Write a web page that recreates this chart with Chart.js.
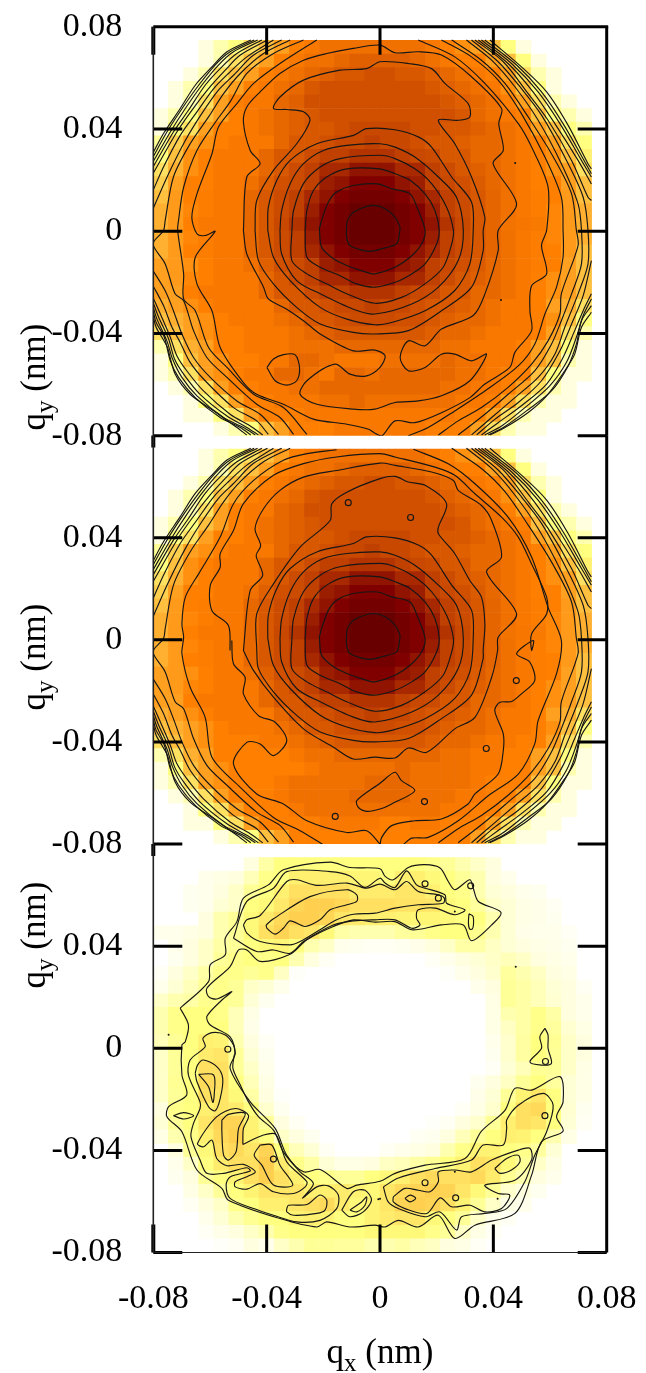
<!DOCTYPE html>
<html><head><meta charset="utf-8">
<style>
html,body{margin:0;padding:0;background:#fff;width:646px;height:1373px;overflow:hidden}
canvas{position:absolute;left:0;top:0}
.t{position:absolute;font-family:"Liberation Serif",serif;font-size:35px;color:#000;white-space:nowrap;line-height:1}
.t sub{font-size:25px;line-height:0}
.r{transform:translate(-50%,-50%) rotate(-90deg)}
.h{transform:translate(-50%,-50%)}
</style></head><body>
<canvas id="c1" width="646" height="1373"></canvas>
<canvas id="c2" width="646" height="1373"></canvas>
<canvas id="c3" width="646" height="1373"></canvas>
<div class="t r" style="left:33px;top:377px">q<sub>y</sub> (nm)</div>
<div class="t r" style="left:33px;top:657px">q<sub>y</sub> (nm)</div>
<div class="t r" style="left:33px;top:935px">q<sub>y</sub> (nm)</div>
<div class="t h" style="left:380px;top:1351px">q<sub>x</sub> (nm)</div>
<script src="https://cdn.jsdelivr.net/npm/chart.js@4"></script>
<script>
// colour ramp: density level -> colour
const rampColours=['#ffffff','#ffffe0','#ffffb0','#ffff80','#ffe060','#ffc040','#ffa020','#ff8000','#f07000','#e06000','#d05000','#c04000','#a82800','#901400','#800000','#680000'];
const tickValues=[-0.08,-0.04,0,0.04,0.08];

// density levels (rows top to bottom, columns left to right)
const heatTop=[
[0,0,0,1,2,3,4,5,6,7,7.5,8,8,8,8,8,8,8,7.5,7,6.5,6,5,3,1,0,0,0,0],
[0,0,0,1,2,4,5,6,7,7.5,8,8,8.5,9,9,9,9,8.5,8,7.5,7,7,6,5,3,1,0,0,0],
[0,0,1,2,4,5,6,7,7.5,8,8.5,9,9.5,9.5,10,10,9.5,9.5,9,8.5,8,7.5,7,6,4,2,1,0,0],
[0,1,2,3,5,6,7,7.5,8,8.5,9.5,10,10,10,10,10,10,10,9.5,9,8.5,8,7.5,6.5,5,3,1,0,0],
[0,1,2,4,6,7,7.5,7.5,8.5,9,10,10,10,10,10,10,10,10,10,9.5,9,8.5,8,7,6,4,2,1,0],
[1,2,3,5,6,7,7.5,8,8.5,9,9.5,10,10,10,10,10,10,10,10,10,9.5,8.5,8,7.5,7,5,3,2,1],
[1,3,4,6,7,7,7.5,8,8.5,9,9.5,9.5,10,10.5,10.5,10.5,10.5,10,10,9.5,9.5,9,8.5,8,7.5,6,5,3,2],
[2.5,4.5,6,6.5,7,7.5,7.5,7.5,8.5,9.5,9.5,10,10.5,10.5,11,10.5,10.5,10,9.5,9.5,9,8.5,8.5,8,7.5,7,6,4,3],
[3,5,6.5,7,7.5,7.5,7.5,8.5,9.5,9.5,10.3,11,11,11.5,11.5,11.5,11,10.5,10.3,9.5,9.5,8.5,8.5,8,7.5,7,6.5,5,3.5],
[4,5.5,6.5,7,7.5,7.5,7.5,8.5,9.5,10.3,11,12,12,13,13,13,12,12,11,10.3,9.5,9,8.5,8,7.5,7,6.5,6,4],
[4.5,6,7,7,7.5,7.5,8,9,10,10.3,11,12.5,13,14,14,14,13,12.5,11,10.5,10,9.3,8.5,8,7.5,7,7,6,5],
[5,6.2,7,7.2,7.5,7.5,8.5,9.5,10.3,11,12,13,14,14.5,14.5,14.5,14,13,12,11,10.3,9.5,8.7,8,7.5,7.2,7,6.2,5],
[5.5,6.2,6.8,7.2,7.5,7.5,8.5,9.5,10.3,11,12.5,14,14.5,15,15,15,14.5,14,12.5,11,10.3,9.5,8.7,8,7.5,7.2,6.8,6.2,5.5],
[5.5,6.2,7,7.5,7.5,7.5,8.5,9.5,10.5,11.5,13,14,14.5,15,15,15,14.5,14,13,11.5,10.5,9.5,8.7,7.8,7.6,7.4,6.8,6.2,5.5],
[5.5,6.2,6.8,7.2,7.5,7.5,8.5,9.5,10.3,11,12.5,14,14.5,15,15,15,14.5,14,12.5,11,10.3,9.5,8.7,8,7.5,7.2,6.8,6.2,5.5],
[5.5,6.2,7,7.2,7.5,7.5,8.5,9.5,10.3,11,12,13,14,14.5,14.5,14.5,14,13,12,11,10.3,9.5,8.7,8,7.5,7.2,7,6.2,5],
[6,6.2,6.5,7,7.5,7.5,8,9,10,10.3,11,12.5,13,14,14,14,13,12.5,11,10.5,10,9.3,8.5,8,7.5,7.2,7,6,5],
[6,6.2,6.8,7,7.5,7.5,7.5,8.5,9.5,10.3,11,12,12,13,13,13,12,12,11,10.3,9.5,9,8.5,8,7.5,7,6.5,6,5],
[6,6,7,7.5,7.5,7.5,7.5,8.5,9.5,9.5,10.3,11,11,11.5,11.5,11.5,11,10.5,10.3,9.5,9.5,8.5,8.5,8,7.5,7,6.5,6,5],
[5.5,6,6.5,7,7.5,7.5,7.5,7.5,8.5,9.5,9.5,10,10.5,10.5,11,10.5,10.5,10,9.5,9.5,9,8.5,8,7.5,7.5,7,6,5.5,4],
[5,5.5,6,6.5,7,7.5,7.5,7.5,8,8.5,9.5,9.5,10,10.3,10.3,10.3,10,10,9.5,9,8.5,8.5,8,7.5,7.5,7,6.5,5,3],
[4,5,6,6.5,7,7,7.5,7.5,7.5,8,8.5,9,9.5,9.5,9.5,9.5,9.5,9.5,9,8.5,8.5,8,7.5,7.5,7.5,7,6,4,2],
[2,4,5.5,6,7,7,7.5,7.5,7.5,8,8,8,8.5,8.5,8.5,8.5,8.5,8.5,8.5,8,8,7.5,7.5,7.5,7,6,5,3,1],
[1,3,5,6,6.5,7,7,7.5,7.5,8.5,8.5,8,7.5,7.5,7.5,8,8,8,8,8.5,8,8,7.5,7.5,7,6,5,2,1],
[1,2,4,6,6.5,7,7.5,7.5,8.5,8.5,8,7.5,8.5,8.5,8,8.5,8.5,8.5,8.5,8.5,8,8,7.5,7,7,5,3,1,1],
[0,1,2,4,6,7,7,7.5,7.5,8,8,8.5,8.5,8.5,8.5,8.5,8.5,8.5,8.5,8,8,7.5,7.5,7,6,4,2,1,0],
[0,0,1,3,4,6,7,7,7.5,7.5,7.5,8,8,8.5,8,8,8,8,8,8,7.5,7.5,7,6,4,2,1,1,0],
[0,0,1,1,3,4,6,7,7,7,7.5,7.5,7.5,7.5,7.5,7.5,7.5,7.5,7.5,7.5,7,7,6,4,2,1,1,0,0],
[0,0,0,0,1,2,3,5,6,7,7,7,7.5,7.5,7.5,7.5,7.5,7.5,7,7,7,6,4,2,1,1,0,0,0]];
const heatMidLower=[
[4,5,6,6.5,7,7,7,7.5,7.5,8,8.5,9,9.5,9.5,9.5,9.5,9.5,9.5,9,8.5,8.5,8,7.5,7.5,7,7,6,4,2],
[2,4,5.5,6,7,7,7,7,7,7.5,8,8,8.5,8.5,8.5,8.5,8.5,8.5,8.5,8,8,7.5,7.5,7,7,6,5,3,1],
[1,3,5,6,6.5,7,7,7,7,7,7.5,8,8,8,8,8,8.5,8,8,8,8,7.5,7.5,7,7,6,5,2,1],
[1,2,4,6,6.5,7,7,7,7.5,8,8,8,8,8,8.5,8.5,8.5,8,8,8,8,7.5,7,7,7,5,3,1,1],
[0,1,2,4,6,7,7,7,7.5,8,8,8,8,8.5,8.5,8.5,8.5,8,8,8,7.5,7.5,7,7,6,4,2,1,0],
[0,0,1,3,4,6,7,7,7,7.5,8,8,8,8,8,8,8,8,8,7.5,7.5,7,7,6,4,2,1,1,0],
[0,0,1,1,3,4,6,7,7,7,7,7.5,7.5,7.5,7.5,7,7,7.5,7.5,7,7,7,6,4,2,1,1,0,0],
[0,0,0,0,1,2,3,5,6,7,7,7,7,7,7,7,7,7,7,7,7,6,4,2,1,1,0,0,0]];
const heatLow=[
[0,0,0,0,0,0,1,2.2,3,3,3,3,3,3,3,3,3,3,2.8,2.5,2,1.5,1,0,0,0,0,0,0],
[0,0,0,.6,.8,1,1.8,2.8,3,3.5,3.5,3.5,3.5,3.3,3.3,3,3.5,3.5,3.2,3,2.5,2,1,.6,0,0,0,0,0],
[0,0,.5,.6,1,1.5,2.5,3,3.5,4,4,4,4,3.6,3.6,3.6,3.8,3.8,3.5,3,2.8,2,1.2,1,.6,.5,0,0,0],
[0,0,.5,.6,1.2,1.5,3,3.2,3.7,4.3,4.5,4.5,4.3,4,4,4,3.9,3.9,3.8,3.2,3,2.4,1.5,1.2,.8,.7,.4,0,0],
[0,0,0,1,2,2.5,3.2,3.7,4.2,4.5,4.5,4.3,3.8,3.6,3.5,3.5,3.4,3.3,3.3,3.2,3,3,2,1.2,.8,.7,.5,0,0],
[.6,.6,.8,1,2,2.5,3.2,4,4.4,4,3.8,3.2,2.2,2,2,2,2.4,2.5,2.8,3,3,2.7,2,1.2,.7,.6,.6,.3,0],
[0,.6,1,1.5,2.2,2.5,3,3.2,3.3,3,2,1.5,.6,.5,.4,.4,.5,.7,1,1.5,2.2,2.2,1.6,1.2,1,.8,.7,.5,0],
[0,.5,1,1.5,2.5,2.8,3,2.8,3,2,1,.4,0,0,0,0,0,0,.3,.6,1,1.2,1.5,1.8,1.5,1,.8,.6,0],
[.3,1,1.5,2.2,2.8,2.8,2.5,2.8,1.6,.2,0,0,0,0,0,0,0,0,0,.2,.6,1,1.4,2.4,2,1.6,1,.8,0],
[.6,1.2,1.8,2.5,2.8,2.5,1.5,1.2,.6,0,0,0,0,0,0,0,0,0,0,0,0,.6,1,2.5,2.2,1.8,1.2,1,.4],
[1.5,2,2.2,2.7,2.8,2.5,1.2,.5,0,0,0,0,0,0,0,0,0,0,0,0,0,0,.8,2.5,2.2,1.8,1.3,1,.6],
[2,2.8,3,3,2.8,1.8,.8,0,0,0,0,0,0,0,0,0,0,0,0,0,0,0,.8,2,2.2,2.8,2.2,1,.6],
[2,2.8,3,3,3,1.8,.7,0,0,0,0,0,0,0,0,0,0,0,0,0,0,0,.8,1.6,2.2,2.8,2.4,1.3,.8],
[1.8,2.5,3,3.5,3.4,2,1,.3,0,0,0,0,0,0,0,0,0,0,0,0,0,0,.6,1.4,2.3,3,2.6,1.5,1],
[1.5,2.5,3,3.6,3.8,2.5,1.2,.5,0,0,0,0,0,0,0,0,0,0,0,0,0,0,.5,1.4,2.3,3,2.5,1.5,1],
[1.5,2.5,3,4,4,2.5,1.5,.6,0,0,0,0,0,0,0,0,0,0,0,0,0,0,.3,1.2,1.8,2.6,2.5,1.5,.8],
[1.5,2.6,3,4.2,4,3,1.8,.8,0,0,0,0,0,0,0,0,0,0,0,0,0,.5,1,1.6,2.5,3,2.4,1.2,.8],
[1.5,2.5,3,4,3.8,3.2,2.2,1,.2,0,0,0,0,0,0,0,0,0,0,0,0,.7,1.2,2.5,3.4,3.8,3,1.2,.8],
[1,2.8,3,3.5,3.8,3.6,3,1.4,.5,0,0,0,0,0,0,0,0,0,0,0,.3,.8,1.4,3,4,4.2,3,1.3,.5],
[1.2,2.5,3,3.8,4.4,4.4,3.4,2.5,1,.4,0,0,0,0,0,0,0,0,.2,.4,1,1.4,2.5,3.5,4,3.8,3,1.2,.4],
[.8,2,2.8,3.5,4.2,4.5,3.5,3,1.5,1,.5,0,0,0,0,0,0,.4,.5,1,1.8,2.5,3,3.5,3.4,3,2,.8,0],
[0,1,2.5,3.2,4,4.2,3.8,4.4,3,1.8,1.2,.4,0,0,0,.4,.6,.8,1,2,2.8,3.4,3.4,3,2.8,2.4,1.2,0,0],
[0,.6,1.5,3,3.6,4,4,4.6,3.6,2.8,2.2,1.2,.8,.8,1,1.6,1.8,2.2,2.6,3,3.4,4,3.8,3.2,2.5,1.5,.8,0,0],
[0,.5,1,2.5,3,3.4,4,4.5,4,3.5,3,2.8,2.5,2.5,3,3.2,3.5,4,4.2,4,4,4.2,3.6,2.6,2,1,.6,0,0],
[0,0,.8,1.5,2.5,3,3.4,3.8,3.8,3.8,3.5,3.5,3.6,3.4,3.2,3.8,4.2,4.4,4.5,4.4,3.8,3.2,2.5,1.4,1,.5,0,0,0],
[0,0,.4,1,1.5,2.8,3,3.5,3.5,3.8,4,4.2,3.6,3.2,3.4,3.8,4.4,4.5,4.4,4,3.4,2.5,1.5,.8,.6,0,0,0,0],
[0,0,0,.6,1.2,2,2.6,3,3,3.4,3.5,3.4,3,3,3.4,3.6,3.8,3.8,3.2,3,2.5,1.5,.7,.4,0,0,0,0,0],
[0,0,0,.3,.7,1,1.5,2,2.8,3,3,3,3,3,3.2,3.2,3.2,3.2,2.8,2.5,1.5,.8,.4,0,0,0,0,0,0],
[0,0,0,0,.2,.4,1,.6,1.5,2,2.5,2.5,2.4,2.4,2,2,2.2,1.8,1.6,1,.8,.3,0,0,0,0,0,0,0]];

// contour lines, q values in units of 0.001 nm as x,y,x,y,...
const ringA=[-11.8,2.1,-11.5,4.7,-10,7.3,-7,9.3,-2.3,10.6,1.8,9.3,5.3,6,7,2.1,7,.8,5.9,-4.4,1.8,-6,-1.8,-7.1,-4.7,-7.3,-10.6,-5.1,-11.8,-1.8,-11.8,2.1];
const ringB=[-21.4,1.4,-20.6,4.7,-18.2,11.9,-15.3,15.8,-9.4,18.4,-1,19,4.1,17.1,10.6,15.1,13.5,8.6,15.9,.8,14.7,-4.5,10.6,-9.7,5.3,-13.6,-1.8,-16.2,-4.7,-15.6,-11.7,-12.9,-16.4,-10.3,-20.6,-5.8,-21.4,1.4];
const ringC=[-26.4,.8,-25.8,8.6,-23.5,16.4,-18.8,21.7,-11.7,24.9,0,24.9,5.3,23,10.6,20.4,15.9,15.1,19.4,8.6,20.9,.8,20,-4.5,15.9,-12.3,11.2,-16.2,5.3,-19.5,-1.8,-21.4,-8.2,-20.1,-14.1,-16.9,-21.1,-13.6,-25.8,-9.7,-26.4,.8];
const ringD=[-31.1,.8,-30.5,8.6,-27,19.1,-21.1,25.6,-14.1,28.9,0,30.2,5.3,28.9,12.3,24.9,18.2,19.1,23.5,9.9,25.9,.8,25.3,-4.5,22.3,-13.6,15.9,-20.1,7.6,-25.4,-1.8,-27.7,-11.7,-24,-18.8,-20.1,-25.8,-16.2,-31.1,-11,-31.1,.8];
const ringE=[-35.3,.8,-34.7,8.6,-31.7,19.1,-27,26.9,-20,32.1,-11.7,34.1,0,34.7,5.3,33.4,12.3,29.5,20.6,21.7,27,13.8,29.4,.8,27.6,-11,20.6,-21.4,11.2,-28,-1.8,-31.9,-9.4,-30,-21.1,-24,-29.4,-18.8,-34.7,-8.4,-35.3,.8];
const ringF=[-39.6,.8,-39.4,9.9,-36.4,20.4,-31.7,28.2,-22.3,34.7,-9.4,38,-4.7,40.6,5.3,40.2,13.5,37.4,18.2,33.4,25.3,21.7,32.3,11.9,32.9,.8,31.7,-12.3,26.4,-22.7,15.9,-30.6,4.1,-35.2,-1.8,-36.1,-11.7,-33.9,-21.1,-29.3,-31.7,-18.8,-37.6,-9.7,-39.6,.8];
const topG=[-44.1,.8,-43.5,12.5,-37.6,24.3,-29.4,34.7,-24.7,43.9,-27,47.2,-32.9,48.1,-37.6,48.5,-35.3,53,-27,59.6,-14.1,63.5,-4.7,64.1,0,66.8,10,66.1,18.2,64.1,22.9,58.3,31.1,50.4,31.7,45.2,27.6,43.9,20.6,43.9,26.4,34.7,32.3,21.7,37,6,36.4,.8,36.4,-7.1,32.3,-21.4,21.7,-30.6,10,-38.4,-1.8,-39.7,-9.4,-39.1,-21.1,-35.8,-29.4,-29.3,-37.6,-20.1,-42.9,-11,-44.1,.8];
const topH=[-48.2,.8,-47,21.7,-42.3,26.9,-45.8,32.1,-48.2,43.2,-47,49.1,-42.3,55,-35.3,62.2,-27,67.4,-18.8,70,-9.4,72,0,73.3,5.3,70.3,13.5,70.7,21.7,69.4,32.3,60.9,42.9,48.5,41.9,42.6,43.5,32.1,39.9,26.9,48.2,11.2,41.7,.8,41.7,-7.1,37,-24.1,32.9,-32.5,21.7,-37.8,15.9,-44.3,10,-42.4,7.1,-48.9,10,-54.1,15.9,-52.8,21.7,-47.6,26.4,-47.6,32.3,-50.2,37.6,-47.6,31.7,-58,21.7,-63.9,13.5,-65.9,5.3,-66.5,-1.8,-69.1,-9.4,-69.1,-22.3,-67.2,-28.2,-63.3,-25.8,-58,-15.9,-51.5,-10.6,-55.4,-4.7,-56.1,0,-52.8,1.8,-48.2,-1.8,-46,-9.4,-46.3,-21.1,-39.7,-27,-34.5,-32.9,-30,-39.4,-26,-41.1,-21.4,-47,-8.4,-48.2,.8];
const topBlob=[-39.9,-52.8,-37.6,-49.5,-34.1,-47.8,-30,-47.8,-28.4,-52.8,-29.4,-58,-32.9,-59.7,-37,-58,-39.9,-52.8];
const topI=[-22.3,75.3,-35.3,66.1,-44.6,58.3,-50.5,50.4,-57,41.3,-59.3,30.8,-64.6,15.1,-66.4,6,-64.6,-.5,-61.7,-1.2,-58.2,.4,-65.2,-9.7,-64.6,-20.1,-59.3,-30.6,-56.4,-45,-48.2,-58.7,-43.5,-63.3,-34.1,-67.2,-23.5,-73,-11.7,-75,-4,-77,-1.8,-78.5,.6,-79.6,5.3,-73.7,12.3,-74.4,21.7,-70.5,31.7,-64.6,37,-59.3,45.8,-52.8,47.6,-46.9,53.5,-38.4,52.9,-30.6,53.5,-20.8,58.8,-16.2,57,-5.1,58.8,.8,59.3,17.8,53.5,33.4,48.8,42.6,37,58.3,26.4,68.7,13.5,75.3];
const arcL10=[-27,75.3,-37.6,70,-47,62.2,-52.9,51.1,-57.6,43.9,-64.6,32.1,-69.3,17.7,-71.1,4.7,-71.4,.8,-69.3,-16.2,-69.3,-26,-65.2,-30.6,-60.5,-45,-54,-52.8,-44.6,-63.3,-34.1,-68.5,-25.8,-79];
const arcR10=[21.7,75.3,32.3,68.7,41.7,59.6,49.9,46.5,58.2,29.5,64,13.8,64.6,.8,64.6,-9.7,62.3,-21.4,58.2,-31.9,54.6,-43.7,48.8,-52.2,37,-62,26.4,-69.8,17,-76.3,10,-79.5];
const arcL11=[-31.7,75.3,-41.1,70,-49.3,62.2,-55.2,54.3,-60.5,45.2,-67,34.7,-72.9,21.7,-75.8,4.7,-76.4,.8,-80.1,-4.4,-75.8,-12.3,-72.3,-24,-69.3,-26.7,-65.8,-38.4,-61.1,-48.9,-54,-56.7,-43.5,-67.2,-35.3,-72.4,-30.5,-79];
const arcR11=[25.3,75.3,35.8,67.4,44.1,58.3,52.3,45.2,60.5,30.8,67.6,15.1,69.3,.8,69.9,-5.1,64,-24,63.5,-31.9,59.3,-42.4,53.5,-51.5,45.2,-60.6,35.8,-68.5,27.6,-73.7,20.6,-79.2];
const arcR12=[30.5,75.3,39.4,67.4,47.6,57,55.8,43.9,64,26.9,69.9,11.2,71.1,.8,71.1,-12.3,67.6,-24,64,-34.5,60.5,-43.7,54.6,-54.1,45.2,-63.3,37,-71.1,27.6,-79.2];
const arcR13=[32.3,75.3,41.7,66.8,49.9,56.3,57,45.9,65.2,29.5,71.7,13.8,73.4,.8,73.4,-12.3,69.9,-24,65.2,-37.1,61.7,-47.6,55.8,-56.7,47.6,-64.6,39.4,-72.4,32.3,-79.2];
const arcTR14=[33.5,75.3,43.5,66.8,52.3,54.3,59.3,43.9,67.6,28.2,73.4,13.8,74.6,12.5];
const arcBR14=[74.6,-11,71.7,-24.7,67.6,-35.8,63.5,-46.3,57,-58,48.8,-66.5,40.5,-73.1,34.1,-79.2];
const arcTR15=[34.7,75.3,45.2,66.1,54,55,61.7,42.6,69.9,28.2,74.6,19];
const arcBR15=[74.6,-24,71.7,-30.6,68.7,-38.4,64.6,-48.9,58.8,-59.3,49.9,-67.8,41.7,-74.4,35.8,-79.2];
const arcTR16=[35.8,75.3,46.4,66.1,55.8,55,63.5,42.6,71.1,28.2,74.6,21.7];
const arcBR16=[74.6,-26,71.7,-32.5,69.3,-41,65.8,-50.8,59.9,-60,50.5,-69.1,42.9,-75.7,37,-79.2];
const arcTR17=[37,75.3,48.2,65.5,57,55,64.6,42.6,72.3,27.6,74.6,23];
const arcBR17=[74.6,-28.6,71.1,-34.5,69.3,-43.7,66.4,-52.2,60.5,-62,51.7,-69.8,43.5,-76.3,38.2,-79.2];
const arcTR18=[38.8,75.3,49.9,64.8,58.8,55,66.4,41.9,73.4,26.9,74.6,24.9];
const arcBR18=[74.6,-31.2,71.1,-37.1,68.7,-47.6,65.2,-54.1,58.8,-63.9,52.3,-70.4,44.1,-76.3,38.8,-79.2];
const arcTL12=[-34.7,75.3,-44.6,69.4,-51.7,61.5,-57,55.7,-62.9,46.5,-68.7,36,-74.6,23,-80.1,9.3];
const arcBL12=[-80.1,-14.9,-75.8,-22.8,-72.9,-30.6,-69.9,-39.7,-65.8,-48.9,-59.9,-56.7,-50.5,-65.9,-42.3,-71.1,-35.8,-79];
const arcTL13=[-37.6,75.3,-47,68.7,-53.5,62.2,-58.7,56.3,-64.6,47.2,-70.5,38,-76.4,25.6,-80.1,16.4];
const arcBL13=[-80.1,-20.8,-76.4,-28.6,-73.4,-37.1,-70.5,-43,-67,-50.8,-61.7,-58,-51.7,-68.5,-43.5,-73.7,-39.4,-79];
const arcTL14=[-39.7,75.3,-49.3,69.4,-54.6,63.5,-60.5,56.3,-66.4,47.8,-71.7,39.3,-80.1,23];
const arcBL14=[-80.1,-25.4,-77.5,-31.9,-74,-41,-71.7,-48.2,-68.2,-54.1,-62.3,-62,-52.9,-71.1,-45.8,-75.7,-41.4,-79.2];
const arcTL15=[-41.7,75.3,-50.5,70,-55.8,64.8,-61.7,57.6,-67.6,47.8,-72.9,39.3,-80.1,25.6];
const arcBL15=[-80.1,-27.3,-78.1,-33.2,-74.6,-41.7,-72.5,-49.5,-69.3,-55.4,-63.5,-63.3,-54,-71.8,-47,-76.3,-42.9,-79.2];
const arcTL16=[-43.2,75.3,-51.7,70.7,-57,65.5,-62.9,57.6,-68.7,48.5,-74,39.3,-80.1,27.6];
const arcBL16=[-80.1,-29,-78.7,-33.9,-75.2,-42.4,-73.2,-49.5,-69.9,-56.7,-64.6,-63.9,-55.2,-72.4,-48.2,-76.3,-44,-79.2];
const arcTL17=[-44.4,75.3,-52.9,70.7,-58.2,65.5,-64,57.6,-69.6,48.9,-75.2,39.3,-80.1,29.5];
const arcBL17=[-80.1,-30.6,-79,-35.2,-76.1,-41,-74,-50.2,-71.1,-56.7,-65.2,-64.6,-56.4,-72.4,-49.3,-76.3,-45.6,-79.2];
const arcTL18=[-45.6,75.3,-54,70.7,-59.3,64.8,-65.2,57.6,-70.5,48.5,-76.4,38.7,-80.1,31.1];
const arcBL18=[-80.1,-32.5,-79,-37.1,-76.6,-41.7,-75,-45,-72.3,-55.4,-67,-63.3,-58.7,-69.8,-50.5,-76.3,-47,-79.2];
const topDots=[47.7,27.2,42.7,-26.4];

// middle panel lines that differ from the top panel
const midG=[-43.5,-3.9,-43.5,10.4,-37.6,22.2,-28.2,36.6,-17.6,47,-17,53.6,-11.7,58.1,0,63.4,5.3,64.3,10,62.1,15.9,60.8,23.5,53.6,20.6,44.4,20.6,41.8,26.4,34,31.7,23.5,35.8,17,37,6.5,36.4,-3.9,36.4,-7.1,32.3,-21.4,21.7,-30.6,10,-38.4,-1.8,-39.7,-9.4,-39.1,-21.1,-35.8,-29.4,-29.3,-37.6,-20.1,-42.9,-11,-43.5,-3.9];
const midH=[-48.2,-3.9,-45.8,19.6,-41.4,25.5,-43.7,33.3,-42.1,37.2,-44.1,43.8,-41.1,51.6,-35.3,58.8,-27,64,-15.3,66.6,0,69.5,5.3,68.6,18.2,66,25.9,62.7,27.6,58.8,35.8,52.9,39.4,47,42.9,32.7,37.6,26.8,48.2,10.4,41.7,1.3,41.5,-3.9,39.4,-14.4,33.5,-30.1,26.4,-34.6,16.5,-43.8,10,-42.1,5.3,-46,-1.8,-45.7,-9.4,-46.4,-16.4,-41.8,-27,-34.6,-37.6,-22.2,-44.6,-11.8,-48.2,-3.9];
const midI=[-52.3,0,-51.7,-9.1,-47.6,-14.4,-48.2,-20.9,-42.9,-29.4,-37,-32,-32.9,-39.2,-37.6,-45.1,-42.3,-40.5,-47,-39.9,-51.7,-48.4,-43.5,-60.1,-34.1,-64,-25.8,-70.6,-11.7,-75.2,-4.7,-74.5,0,-79.7];
const midIup=[-52.9,-3.9,-53.5,5.9,-59.3,11.7,-59.9,21.6,-56.4,28.7,-56.4,34,-51.7,43.1,-48.2,53.6,-37.6,64.7,-27,69.3,-15.3,71.9,0,73.2,5.3,71.9,19.4,67.9,26.4,64.7,33.5,57.5,42.9,48.3,48.8,40.5,53.5,30,58.8,17,58.8,10.4,53.5,2.6,53.5,-3.9,54.1,0,48.2,-5.2,52.9,-8.5,54.6,-15.7,49.9,-20.9,46.4,-23.9,42.3,-24.2,40.5,-27.4,43.5,-36.6,43.5,-43.1,41.7,-52.3,33.5,-60.1,31.1,-64,21.7,-69.9,12.3,-70.6,4.1,-72.5,.6,-77.1,0,-80];
const midLobe=[0,-55.9,-8.2,-62.7,-7.6,-65.4,-4.7,-66.9,0,-66,4.1,-64,12.3,-58.8,7.6,-54.9,5.3,-51.6,0,-55.9];
const midL10=[-15.3,74.7,-25.8,73.2,-34.1,70.6,-44.6,62.7,-51.7,53.6,-56.4,40.5,-64,26.1,-68.7,17,-69.9,6.5,-69.3,1.3,-69.9,-5.2,-67,-18.3,-61.7,-30.1,-59.3,-45.7,-49.3,-57.5,-37.6,-69.3,-28.2,-74.5,-20,-80];
const midR10=[11.8,74.9,24.1,69.2,33.5,61.4,45.2,48.3,53.5,32.7,59.3,13,64,0,62.3,-13,55.8,-31.4,54.6,-40.5,48.8,-52.3,38.2,-60.8,27.6,-70.6,17,-77.1,11.2,-77.4,8.2,-80];
const midRings=[-11.2,54,10.8,48.2,48.1,-15.7,37.5,-42.3,15.7,-63.1,-15.8,-68.9];

// bottom panel lines
const lowA=[-70.5,16,-60.5,26.4,-59.9,33,-54.6,36.9,-54.6,43.4,-50.5,49.9,-48.2,59.1,-39.4,64.3,-34.1,70.2,-17.6,73.2,-10.6,71.1,0,70.6,1.8,67.6,4.7,66.3,10,71.1,15.9,72.2,21.2,70.9,24.1,65.6,26.4,62.4,31.7,66.3,32.9,63,34.7,57.8,42.7,53.5,39.4,48.6,32.3,42.4,29.4,48.6,21.7,48.6,11.2,46.7,5.3,49.9,-1.8,49.7,-9.4,50.6,-16.5,48,-25.8,42.8,-31.7,37.1,-42.3,34.3,-47,38.8,-49.9,38.8,-52.9,32.3,-61.1,23.8,-60.5,20.5,-57.6,19.6,-52.3,22.5,-55.8,19.2,-61.1,12.7,-59.9,9.4,-52.9,4.8,-51.1,-1.7,-52.9,-7.6,-45.8,-20.7,-37,-31.1,-32.9,-41.6,-27,-48.1,-21.1,-47.2,-11.7,-54.6,-8.2,-53.3,0,-51.8,5.3,-48.7,15.9,-45.5,30,-42.9,35.8,-32.2,44.1,-24,47.6,-15.4,53.5,-16.1,63.5,-10.8,64.6,-20.7,62.3,-26.5,64.6,-32.2,57,-36.3,53.5,-49.4,47.6,-64.4,33.5,-69,26.4,-74.2,20.6,-65.1,13.5,-69.7,6.5,-67.1,1.8,-69.7,-1.8,-69,-10.6,-69.7,-18.8,-67.7,-22.3,-69.7,-35.3,-66.4,-53.5,-59.2,-55.8,-54.6,-64.6,-47.4,-69.9,-32.4,-75.2,-26.5,-74.6,-22.6,-68.2,-18,-69.9,-10.2,-69.9,1.6,-68.7,2.9,-67.6,9.4,-70.5,16];
const lowB=[-51.7,43.4,-47,57.8,-37.6,63,-32.9,69.5,-17.6,69.5,-10.6,67.8,-5.3,63.3,0,66.9,1.8,65,5.3,63.3,9.4,69.8,12.9,64.3,15.9,63,22.9,60.4,23.5,57.1,30,54.5,26.4,52.6,19.4,55.2,13.5,54.5,12.9,51.2,14.1,48.6,11.2,47.3,5.3,50.6,-1.8,50.6,-9.4,50.2,-16.5,48.6,-27,42.1,-31.7,37.5,-37.6,38.8,-43.5,38.2,-51.7,43.4];
const lowC=[-48.2,48.6,-47,50.6,-42.3,52.3,-32.9,65.6,-29.4,66.3,-22.3,64.1,-11.7,65,-4.7,63,0,64.6,5.3,62.4,9.4,65.6,13.5,61.7,20.6,60.4,22.7,59.1,22.3,57.1,13.5,56.5,5.3,55.2,-1.8,53.2,-9.4,52.8,-15.3,50.6,-21.2,46.7,-28.2,42.1,-31.7,40.8,-42.3,42.1,-47,45.4,-48.2,48.6];
const lowD=[-40.2,48.6,-37.6,51,-24.7,59.7,-11.7,62.4,-8.2,60.4,-8.2,57.8,-11.7,56.5,-17.6,54.5,-21.2,50.6,-26.4,48,-31.7,50.2,-34.1,47.3,-37,45,-39.9,47.3,-40.2,48.6];
const lowE=[-51.1,-1.7,-51.7,1.6,-54.6,5.5,-59.3,6.4,-62.5,4.2,-61.7,.9,-67,-4.3,-67.6,-10.2,-63.5,-20.7,-63.5,-23.3,-65.8,-29.1,-66.7,-34.4,-63.5,-43.5,-61.1,-48.7,-55.2,-48.7,-47,-46.5,-45.8,-47.8,-52.9,-50.1,-54.3,-53.3,-52.9,-58.5,-44.6,-62.5,-37.6,-65.1,-29.4,-67.7,-21.2,-67.1,-15.3,-62.5,-14.7,-57.2,-18.2,-53.6,-22.3,-54,-27.4,-58.5,-23.5,-52.7,-28.2,-48.1,-34.1,-40.3,-37.6,-31.8,-42.9,-26.5,-46.4,-20.7,-49.3,-14.1,-51.9,-7.6,-51.4,-2.3,-51.1,-1.7];
const lowF=[-48.4,-37.4,-41.1,-33.7,-36.7,-33.5,-32.9,-44.2,-25.8,-52,-26.4,-54,-30.5,-56.6,-37.6,-55.9,-42.3,-52.7,-47,-54.9,-51.1,-54,-51.1,-52,-47,-50,-44,-48.1,-48.2,-45.2,-54,-45.7,-57.6,-42.9,-59.3,-35.7,-62.3,-38.3,-64.4,-37,-57.6,-26.5,-51.1,-23.3,-46.4,-26.1,-48.2,-31.1,-48.4,-37.4];
const lowG=[-42.3,-37.6,-38.2,-37.6,-35.3,-45.5,-30.8,-53.3,-37.6,-53.3,-41.7,-45.5,-44.4,-41.6,-42.3,-37.6];
const lowH=[-55.8,-27.8,-53.5,-25.6,-47.6,-25.2,-49.9,-31.1,-50.8,-40.3,-53.5,-43.5,-55.2,-41.6,-55.8,-32.4,-55.8,-27.8];
const lowI=[-65.2,-9.5,-64.4,-6.3,-62.3,-4.3,-57.6,-6.9,-55.5,-11.5,-56.4,-19.4,-58.2,-24.2,-60.5,-22.6,-64.6,-12.8,-65.2,-9.5];
const lowJ=[-64,-9.9,-58.7,-10.2,-58.5,-18,-59,-20.9,-60.5,-14.8,-64,-9.9];
const lowK=[-72.9,-26.1,-69.3,-24.9,-65.8,-26.1,-69.3,-27.4,-72.9,-26.1];
const lowL=[-32.9,-62.5,-32.3,-61.2,-25.8,-60.9,-21.2,-57.2,-18.8,-59.2,-19.4,-63.1,-22.3,-64.4,-30.5,-65.1,-32.9,-63.8,-32.9,-62.5];
const lowM=[-13.5,-63.1,-9.4,-55.9,-5.3,-55.3,-3,-59.2,-5.9,-63.8,-10.6,-65.7,-13.5,-63.1];
const lowN=[-10.6,-63.1,-6.5,-59.9,-4.7,-57.9,-5.3,-61.2,-8.2,-63.8,-10.6,-63.1];
const lowP=[1.2,-54,6.5,-50.5,19.4,-46.8,32.3,-43.5,36.4,-37.6,43.5,-37.6,44.7,-31.1,44.7,-27.8,48.8,-22,57.6,-17.4,61.1,-22,58.8,-32.4,54.6,-41.6,51.1,-52,44.7,-62.5,37,-64.4,28.8,-65.7,27,-70.9,21.2,-63.8,15.9,-65.7,6.5,-62.5,2.9,-59.9,1.2,-54];
const lowQ=[4.7,-57.9,8.8,-54.6,13.5,-55.3,17.6,-55.9,20.6,-52,20.6,-48.1,26.4,-47.4,32.3,-48.1,39.4,-43.5,48.8,-39.6,52.9,-38.9,53.5,-43.5,47.6,-51.4,37,-53.3,41.7,-56.6,45.8,-57.2,42.9,-62.5,37,-63.8,31.7,-61.2,25.3,-61.8,21.2,-58.3,16.5,-64.4,8.8,-62.5,4.7,-59.9,4.7,-57.9];
const lowR=[40.5,-46.8,44.7,-42.9,48.8,-41.6,49.4,-44.2,46.4,-47.4,42.3,-48.7,40.5,-46.8];
const lowS=[8.8,-58.5,10.6,-57.2,12.6,-58.5,10.6,-59.9,8.8,-58.5];
const lowT=[58.2,8.1,56.4,4.8,57,.3,52.9,-5,57,-6.3,60.5,-5.6,59.3,.3,59.3,5.5,58.2,8.1];
const lowU=[31.4,53,32.8,52,33,49,32.6,47,31.6,47,31.2,49.5,31.4,53];
const lowRings=[15.9,64.7,20.6,59.1,32,63.9,-53.7,-.1,-37.6,-43.1,15.9,-52.4,26.7,-58.3,58.2,-26.1,58.4,-4.9];
const lowDots=[-74.6,5.6,26.4,53.9,47.9,32.2,0,-58.6,41.5,-58.6,26.4,-48.1,-.6,-58.8];

const rings=[ringA,ringB,ringC,ringD,ringE,ringF];
const sidesCommon=[arcR12,arcR13,arcTR14,arcBR14,arcTR15,arcBR15,arcTR16,arcBR16,arcTR17,arcBR17,arcTR18,arcBR18,arcR11,arcL11,arcTL12,arcBL12,arcTL13,arcBL13,arcTL14,arcBL14,arcTL15,arcBL15,arcTL16,arcBL16,arcTL17,arcBL17,arcTL18,arcBL18];
const linesTop=[...rings,topG,topH,topBlob,topI,arcL10,arcR10,...sidesCommon];
const linesMid=[...rings,midG,midH,midI,midIup,midLobe,midL10,midR10,...sidesCommon];
const linesLow=[lowA,lowB,lowC,lowD,lowE,lowF,lowG,lowH,lowI,lowJ,lowK,lowL,lowM,lowN,lowP,lowQ,lowR,lowS,lowT,lowU];
const heatMid=[...heatTop.slice(0,21),...heatMidLower];

function colourOf(v){
  const i=Math.min(Math.floor(v),rampColours.length-2),f=v-i;
  const a=rampColours[i],b=rampColours[i+1];
  const c=k=>Math.round(parseInt(a.substr(k,2),16)*(1-f)+parseInt(b.substr(k,2),16)*f);
  return `rgb(${c(1)},${c(3)},${c(5)})`;
}
function cells(grid){
  const step=0.16/30,out=[];
  grid.forEach((row,r)=>row.forEach((v,c)=>{
    if(v>0) out.push({x:-0.08+(c+.5)*step,y:[0.08-(r+2)*step,0.08-(r+1)*step],v});
  }));
  return out;
}
function pts(a,dy){const o=[];for(let i=0;i<a.length;i+=2)o.push({x:a[i]/1000,y:(a[i+1]+dy)/1000});return o;}
function noPad(s){s.paddingTop=0;s.paddingBottom=0;s.paddingLeft=0;s.paddingRight=0;}

const framePlugin={id:'frame',afterDatasetsDraw(ch,_,o){
  const {ctx,chartArea:A,scales:{x,y}}=ch;
  ctx.save();ctx.strokeStyle='#000';ctx.lineCap='butt';
  ctx.lineWidth=3;
  y.ticks.forEach(t=>{
    const p=y.getPixelForValue(t.value);
    if(t.value>0.079) return;
    ctx.beginPath();ctx.moveTo(A.left,p);ctx.lineTo(A.left+29,p);
    ctx.moveTo(A.right,p);ctx.lineTo(A.right-29,p);ctx.stroke();
  });
  if(o.topTicks){
    x.ticks.forEach(t=>{const p=x.getPixelForValue(t.value);if(Math.abs(t.value)>0.079)return;
      ctx.beginPath();ctx.moveTo(p,A.top);ctx.lineTo(p,A.top+28);ctx.stroke();});
    ctx.beginPath();ctx.moveTo(A.left,A.top);ctx.lineTo(A.right+1.5,A.top);ctx.stroke();
  }
  if(o.bottomTicks){
    x.ticks.forEach(t=>{const p=x.getPixelForValue(t.value);if(Math.abs(t.value)>0.079)return;
      ctx.beginPath();ctx.moveTo(p,A.bottom);ctx.lineTo(p,A.bottom-28);ctx.stroke();});
    ctx.lineWidth=4;ctx.beginPath();ctx.moveTo(A.left,A.bottom);ctx.lineTo(A.left,A.bottom-28);ctx.stroke();
    ctx.lineWidth=1.2;ctx.strokeStyle='#222';ctx.beginPath();ctx.moveTo(A.left,A.bottom);ctx.lineTo(A.right,A.bottom);ctx.stroke();ctx.strokeStyle='#000';
  }
  ctx.lineWidth=4;ctx.beginPath();ctx.moveTo(A.left,A.top);ctx.lineTo(A.left,A.top+o.stub);ctx.stroke();
  ctx.lineWidth=1.6;ctx.strokeStyle='#222';ctx.beginPath();ctx.moveTo(A.left,A.top);ctx.lineTo(A.left,A.bottom);ctx.stroke();
  ctx.lineWidth=3;ctx.strokeStyle='#000';ctx.beginPath();ctx.moveTo(A.right,A.top);ctx.lineTo(A.right,A.bottom);ctx.stroke();
  ctx.restore();
}};

function panel(id,cfg){
  const lineSets=cfg.lines.map(a=>({type:'scatter',showLine:true,data:pts(a,cfg.dy),borderColor:'#161616',borderWidth:1.15,pointRadius:0,tension:.3,fill:false,order:1}));
  const dotSets=[];
  if(cfg.rings) dotSets.push({type:'scatter',data:pts(cfg.rings,cfg.dy),pointRadius:3,pointBorderWidth:1.15,pointBorderColor:'#161616',pointBackgroundColor:'rgba(0,0,0,0)',order:1});
  if(cfg.dots) dotSets.push({type:'scatter',data:pts(cfg.dots,cfg.dy),pointRadius:1,pointBorderWidth:0,pointBackgroundColor:'#111',order:1});
  new Chart(document.getElementById(id),{
    type:'bar',
    data:{datasets:[{type:'bar',data:cells(cfg.grid),grouped:false,barPercentage:1,categoryPercentage:1,borderWidth:0,
      backgroundColor:c=>colourOf(c.raw.v),order:2},...lineSets,...dotSets]},
    options:{responsive:false,animation:false,devicePixelRatio:1,
      layout:{padding:{left:0,right:39.3,top:cfg.top,bottom:0}},
      plugins:{legend:{display:false},tooltip:{enabled:false},frame:cfg.frame},
      scales:{
        x:{type:'linear',offset:false,min:-0.08,max:0.08,afterFit:s=>{noPad(s);s.height=1373-cfg.bottom;},
          afterBuildTicks:s=>{s.ticks=tickValues.map(value=>({value}));},
          grid:{display:false},border:{display:false},
          ticks:{display:cfg.xLabels,maxRotation:0,autoSkip:false,padding:18,color:'#000',font:{family:'"Liberation Serif"',size:34},
            callback:v=>String(+(+v).toFixed(2))}},
        y:{type:'linear',min:-0.08,max:0.08,afterFit:s=>{noPad(s);s.width=153.3;},
          afterBuildTicks:s=>{s.ticks=tickValues.map(value=>({value}));},
          grid:{display:false},border:{display:false},
          ticks:{padding:23,color:'#000',font:{family:'"Liberation Serif"',size:34},autoSkip:false,
            callback:v=>(v>0.079&&!cfg.topLabel)?'':String(+(+v).toFixed(2))}}
      }
    },plugins:[framePlugin]});
}
panel('c1',{grid:heatTop,lines:linesTop,dots:topDots,dy:-.5,top:26.7,bottom:435.7,xLabels:false,topLabel:true,frame:{topTicks:true,bottomTicks:false,stub:28}});
panel('c2',{grid:heatMid,lines:linesMid,rings:midRings,dy:-.3,top:435.5,bottom:844,xLabels:false,topLabel:false,frame:{topTicks:false,bottomTicks:false,stub:12}});
panel('c3',{grid:heatLow,lines:linesLow,rings:lowRings,dots:lowDots,dy:-.3,top:844,bottom:1252.5,xLabels:true,topLabel:false,frame:{topTicks:false,bottomTicks:true,stub:12}});
</script>
</body></html>
